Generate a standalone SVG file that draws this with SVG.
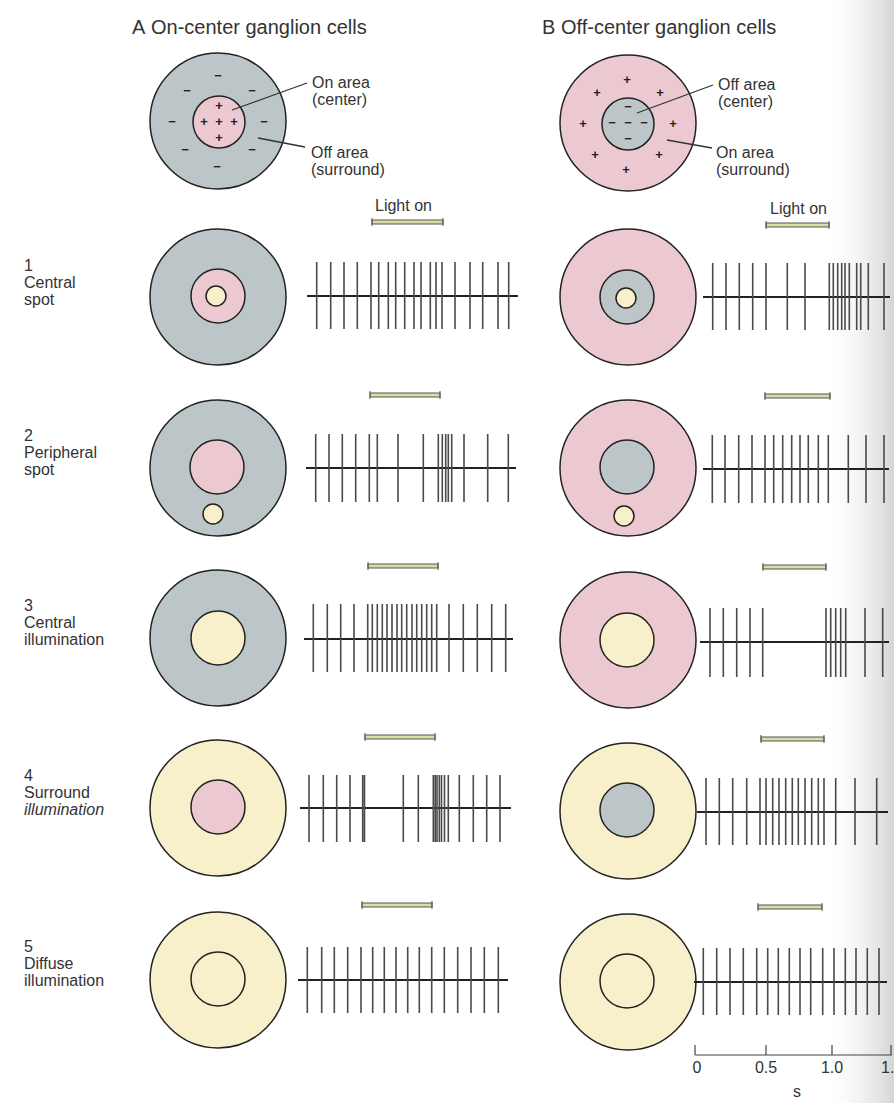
<svg xmlns="http://www.w3.org/2000/svg" width="894" height="1103" viewBox="0 0 894 1103">
<defs>
<linearGradient id="edge" x1="0" y1="0" x2="1" y2="0">
<stop offset="0" stop-color="#ffffff" stop-opacity="0"/>
<stop offset="1" stop-color="#d4d4d4" stop-opacity="1"/>
</linearGradient>
<style>
text{font-family:"Liberation Sans",Arial,sans-serif;fill:#333}
.title{font-size:20px}
.lab{font-size:16px}
.sign{font-size:13px;font-weight:bold;text-anchor:middle;fill:#222}
.out{stroke:#222;stroke-width:1.5}
.g{fill:#bcc6c8}
.p{fill:#ecc9d1}
.y{fill:#f8f0cb}
.base{stroke:#222;stroke-width:2;fill:none}
.sp{stroke:#4a4a4a;stroke-width:1.6;fill:none}
.bar{fill:#dcdca6;stroke:#555;stroke-width:1}
.cap{stroke:#555;stroke-width:1}
.lead{stroke:#333;stroke-width:1.3;fill:none}
.sc{stroke:#444;stroke-width:1.2;fill:none}
</style>
</defs>
<rect width="894" height="1103" fill="#ffffff"/>
<rect x="820" y="0" width="74" height="1103" fill="url(#edge)"/>

<text class="title" x="132" y="34">A</text>
<text class="title" x="151" y="34">On-center ganglion cells</text>
<text class="title" x="542" y="34">B</text>
<text class="title" x="561" y="34">Off-center ganglion cells</text>

<g id="legendA">
<circle class="out g" cx="218" cy="121" r="68"/>
<circle class="out p" cx="219" cy="122" r="26"/>
<text class="sign" x="218" y="80">−</text>
<text class="sign" x="187" y="95">−</text>
<text class="sign" x="252" y="95">−</text>
<text class="sign" x="172" y="126">−</text>
<text class="sign" x="264" y="126">−</text>
<text class="sign" x="185" y="154">−</text>
<text class="sign" x="252" y="154">−</text>
<text class="sign" x="217" y="171">−</text>
<text class="sign" x="219" y="110">+</text>
<text class="sign" x="204" y="126">+</text>
<text class="sign" x="219" y="126">+</text>
<text class="sign" x="234" y="126">+</text>
<text class="sign" x="219" y="142">+</text>
<text class="lab" x="312" y="88">On area</text>
<text class="lab" x="312" y="105">(center)</text>
<text class="lab" x="311" y="158">Off area</text>
<text class="lab" x="311" y="175">(surround)</text>
</g>

<g id="legendB">
<circle class="out p" cx="628" cy="123" r="68"/>
<circle class="out g" cx="628" cy="124" r="26"/>
<text class="sign" x="627" y="84">+</text>
<text class="sign" x="597" y="97">+</text>
<text class="sign" x="660" y="97">+</text>
<text class="sign" x="583" y="128">+</text>
<text class="sign" x="673" y="128">+</text>
<text class="sign" x="595" y="159">+</text>
<text class="sign" x="659" y="159">+</text>
<text class="sign" x="626" y="174">+</text>
<text class="sign" x="628" y="111">−</text>
<text class="sign" x="612" y="127">−</text>
<text class="sign" x="628" y="127">−</text>
<text class="sign" x="644" y="127">−</text>
<text class="sign" x="628" y="143">−</text>
<text class="lab" x="718" y="90">Off area</text>
<text class="lab" x="718" y="107">(center)</text>
<text class="lab" x="716" y="158">On area</text>
<text class="lab" x="716" y="175">(surround)</text>
</g>

<g id="connectors">
<path class="lead" d="M232 110 L307 83"/>
<path class="lead" d="M258 138 L305 147"/>
<path class="lead" d="M637 113 L713 85"/>
<path class="lead" d="M667 140 L712 148"/>
</g>

<text class="lab" x="375" y="211">Light on</text>
<text class="lab" x="770" y="214">Light on</text>

<g id="labels">
<text class="lab" x="24" y="271">1</text>
<text class="lab" x="24" y="288">Central</text>
<text class="lab" x="24" y="305">spot</text>
<text class="lab" x="24" y="441">2</text>
<text class="lab" x="24" y="458">Peripheral</text>
<text class="lab" x="24" y="475">spot</text>
<text class="lab" x="24" y="611">3</text>
<text class="lab" x="24" y="628">Central</text>
<text class="lab" x="24" y="645">illumination</text>
<text class="lab" x="24" y="781">4</text>
<text class="lab" x="24" y="798">Surround</text>
<text class="lab" x="24" y="815" font-style="italic">illumination</text>
<text class="lab" x="24" y="952">5</text>
<text class="lab" x="24" y="969">Diffuse</text>
<text class="lab" x="24" y="986">illumination</text>
</g>

<g id="row1A">
<circle class="out g" cx="218" cy="297" r="68"/>
<circle class="out p" cx="218" cy="296" r="27"/>
<circle class="out y" cx="216" cy="296" r="10"/>
<rect class="bar" x="372" y="220" width="71" height="4"/>
<path class="cap" d="M372 218 V226 M443 218 V226"/>
<path class="base" d="M307 296 H518"/>
<path class="sp" d="M316.7 262V329M330.7 262V329M344 262V329M357.3 262V329M371 262V329M378.7 262V329M388.3 262V329M395.7 262V329M404.7 262V329M414 262V329M421 262V329M430.3 262V329M436 262V329M442 262V329M455 262V329M470 262V329M482.7 262V329M498 262V329M508.7 262V329"/>
</g>
<g id="row1B">
<circle class="out p" cx="628" cy="297" r="68"/>
<circle class="out g" cx="627" cy="297" r="27"/>
<circle class="out y" cx="626" cy="298" r="10"/>
<rect class="bar" x="766" y="223" width="63" height="4"/>
<path class="cap" d="M766 221 V229 M829 221 V229"/>
<path class="base" d="M703 297 H890"/>
<path class="sp" d="M712.7 263V330M726 263V330M739.3 263V330M752.7 263V330M766 263V330M787.3 263V330M805 263V330M829.3 263V330M833.3 263V330M837.7 263V330M841.7 263V330M845 263V330M849.3 263V330M856.7 263V330M860.7 263V330M868.3 263V330M884 263V330"/>
</g>

<g id="row2A">
<circle class="out g" cx="218" cy="468" r="68"/>
<circle class="out p" cx="217" cy="467" r="27"/>
<circle class="out y" cx="213" cy="514" r="10"/>
<rect class="bar" x="370" y="393" width="70" height="4"/>
<path class="cap" d="M370 391 V399 M440 391 V399"/>
<path class="base" d="M306 468 H516"/>
<path class="sp" d="M315.7 434V502M329 434V502M342.3 434V502M355.7 434V502M369.3 434V502M377.3 434V502M398 434V502M423.3 434V502M438.3 434V502M442.3 434V502M445.7 434V502M448.3 434V502M451.7 434V502M464 434V502M487.7 434V502M508.3 434V502"/>
</g>
<g id="row2B">
<circle class="out p" cx="628" cy="468" r="68"/>
<circle class="out g" cx="627" cy="467" r="27"/>
<circle class="out y" cx="624" cy="516" r="10"/>
<rect class="bar" x="765" y="394" width="65" height="4"/>
<path class="cap" d="M765 392 V400 M830 392 V400"/>
<path class="base" d="M703 469 H889"/>
<path class="sp" d="M712.3 435V503M725 435V503M738.7 435V503M752 435V503M765 435V503M773.7 435V503M782.7 435V503M791.7 435V503M800 435V503M808.3 435V503M818.3 435V503M828.3 435V503M848.3 435V503M866 435V503M884 435V503"/>
</g>

<g id="row3A">
<circle class="out g" cx="218" cy="638" r="68"/>
<circle class="out y" cx="218" cy="638" r="27"/>
<rect class="bar" x="368" y="564" width="70" height="4"/>
<path class="cap" d="M368 562 V570 M438 562 V570"/>
<path class="base" d="M304 639 H513"/>
<path class="sp" d="M313.3 604V672M327.3 604V672M340.7 604V672M354 604V672M367.7 604V672M372.3 604V672M377.3 604V672M382.3 604V672M387 604V672M392 604V672M397 604V672M401.7 604V672M406.7 604V672M412 604V672M416.7 604V672M421.7 604V672M426.7 604V672M431.7 604V672M436.7 604V672M449 604V672M463.3 604V672M477.3 604V672M491.7 604V672M505.7 604V672"/>
</g>
<g id="row3B">
<circle class="out p" cx="628" cy="640" r="68"/>
<circle class="out y" cx="627" cy="640" r="27"/>
<rect class="bar" x="763" y="565" width="63" height="4"/>
<path class="cap" d="M763 563 V571 M826 563 V571"/>
<path class="base" d="M700 642 H889"/>
<path class="sp" d="M710 608V677M723.3 608V677M736.7 608V677M750 608V677M762.7 608V677M826 608V677M830.7 608V677M835.7 608V677M840.7 608V677M845.7 608V677M865 608V677M882.7 608V677"/>
</g>

<g id="row4A">
<circle class="out y" cx="218" cy="808" r="68"/>
<circle class="out p" cx="218" cy="807" r="27"/>
<rect class="bar" x="365" y="735" width="70" height="4"/>
<path class="cap" d="M365 733 V741 M435 733 V741"/>
<path class="base" d="M300 808 H511"/>
<path class="sp" d="M309 775V842M323.3 775V842M336.7 775V842M350 775V842M362.7 775V842M364.5 775V842M403.3 775V842M418.3 775V842M433.3 775V842M435.2 775V842M437 775V842M439.3 775V842M441.5 775V842M444.5 775V842M448.3 775V842M459.3 775V842M473.3 775V842M486.7 775V842M500 775V842"/>
</g>
<g id="row4B">
<circle class="out y" cx="628" cy="811" r="68"/>
<circle class="out g" cx="627" cy="810" r="27"/>
<rect class="bar" x="761" y="737" width="63" height="4"/>
<path class="cap" d="M761 735 V743 M824 735 V743"/>
<path class="base" d="M697 812 H888"/>
<path class="sp" d="M706 778V845M719.3 778V845M732.7 778V845M746.7 778V845M760 778V845M766 778V845M772.7 778V845M779 778V845M785.7 778V845M792.3 778V845M798.3 778V845M805 778V845M811.7 778V845M818.3 778V845M824 778V845M835.7 778V845M855 778V845M876.7 778V845"/>
</g>

<g id="row5A">
<circle class="out y" cx="218" cy="980" r="68"/>
<circle class="out y" cx="218" cy="979" r="27"/>
<rect class="bar" x="362" y="903" width="70" height="4"/>
<path class="cap" d="M362 901 V909 M432 901 V909"/>
<path class="base" d="M298 980 H508"/>
<path class="sp" d="M307.3 947V1013M321.7 947V1013M334.3 947V1013M347.7 947V1013M361 947V1013M372.7 947V1013M384.3 947V1013M396 947V1013M407.7 947V1013M419.3 947V1013M431.7 947V1013M444.3 947V1013M457.7 947V1013M471 947V1013M484.3 947V1013M498.3 947V1013"/>
</g>
<g id="row5B">
<circle class="out y" cx="628" cy="982" r="68"/>
<circle class="out y" cx="627" cy="981" r="27"/>
<rect class="bar" x="758" y="905" width="64" height="4"/>
<path class="cap" d="M758 903 V911 M822 903 V911"/>
<path class="base" d="M694 982 H887"/>
<path class="sp" d="M703.3 948V1015M716.7 948V1015M730 948V1015M743.3 948V1015M756.7 948V1015M767.7 948V1015M778.3 948V1015M789.3 948V1015M800 948V1015M810.7 948V1015M822.7 948V1015M834 948V1015M845.3 948V1015M856 948V1015M867.3 948V1015M879 948V1015"/>
</g>

<g id="scale">
<path class="sc" d="M695 1055 H892 M695 1045 V1055 M766 1045 V1055 M832 1045 V1055 M891 1045 V1055"/>
<text class="lab" x="697" y="1073" text-anchor="middle">0</text>
<text class="lab" x="766" y="1073" text-anchor="middle">0.5</text>
<text class="lab" x="832" y="1073" text-anchor="middle">1.0</text>
<text class="lab" x="881" y="1073">1.</text>
<text class="lab" x="797" y="1097" text-anchor="middle">s</text>
</g>
</svg>
